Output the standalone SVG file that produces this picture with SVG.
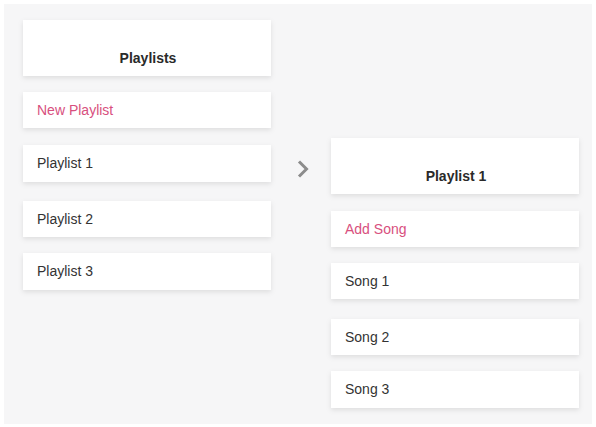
<svg xmlns="http://www.w3.org/2000/svg" width="596" height="427" viewBox="0 0 596 427">
<defs>
<filter id="sh" x="-10%" y="-30%" width="120%" height="180%">
<feDropShadow dx="0" dy="2" stdDeviation="2.5" flood-color="#000" flood-opacity="0.10"/>
</filter>
<style>
.card{fill:#fff;filter:url(#sh)}
.t{font-family:"Liberation Sans",Arial,sans-serif;font-size:14px;fill:#333}
.h{font-family:"Liberation Sans",Arial,sans-serif;font-size:14px;font-weight:bold;fill:#2a2a2a;text-anchor:middle}
.p{fill:#d84f7e}
</style>
</defs>
<rect x="0" y="0" width="596" height="427" fill="#fff"/>
<rect x="4" y="4" width="588" height="420" fill="#f6f6f7"/>
<g id="playlists-header"><rect class="card" x="23" y="20" width="248" height="56"/><text class="h" x="148" y="63">Playlists</text></g>
<g id="new-playlist"><rect class="card" x="23" y="92" width="248" height="36"/><text class="t p" x="37" y="115">New Playlist</text></g>
<g id="playlist-1"><rect class="card" x="23" y="145" width="248" height="37"/><text class="t" x="37" y="168">Playlist 1</text></g>
<g id="playlist-2"><rect class="card" x="23" y="201" width="248" height="36"/><text class="t" x="37" y="224">Playlist 2</text></g>
<g id="playlist-3"><rect class="card" x="23" y="253" width="248" height="37"/><text class="t" x="37" y="276">Playlist 3</text></g>
<g id="connectors"><path d="M299 161.5 L306.5 169 L299 176.5" fill="none" stroke="#8c8c8c" stroke-width="3"/></g>
<g id="playlist1-header"><rect class="card" x="331" y="138" width="248" height="56"/><text class="h" x="456" y="181">Playlist 1</text></g>
<g id="add-song"><rect class="card" x="331" y="211" width="248" height="36"/><text class="t p" x="345" y="234">Add Song</text></g>
<g id="song-1"><rect class="card" x="331" y="263" width="248" height="36"/><text class="t" x="345" y="286">Song 1</text></g>
<g id="song-2"><rect class="card" x="331" y="319" width="248" height="36"/><text class="t" x="345" y="342">Song 2</text></g>
<g id="song-3"><rect class="card" x="331" y="371" width="248" height="37"/><text class="t" x="345" y="394">Song 3</text></g>
</svg>
